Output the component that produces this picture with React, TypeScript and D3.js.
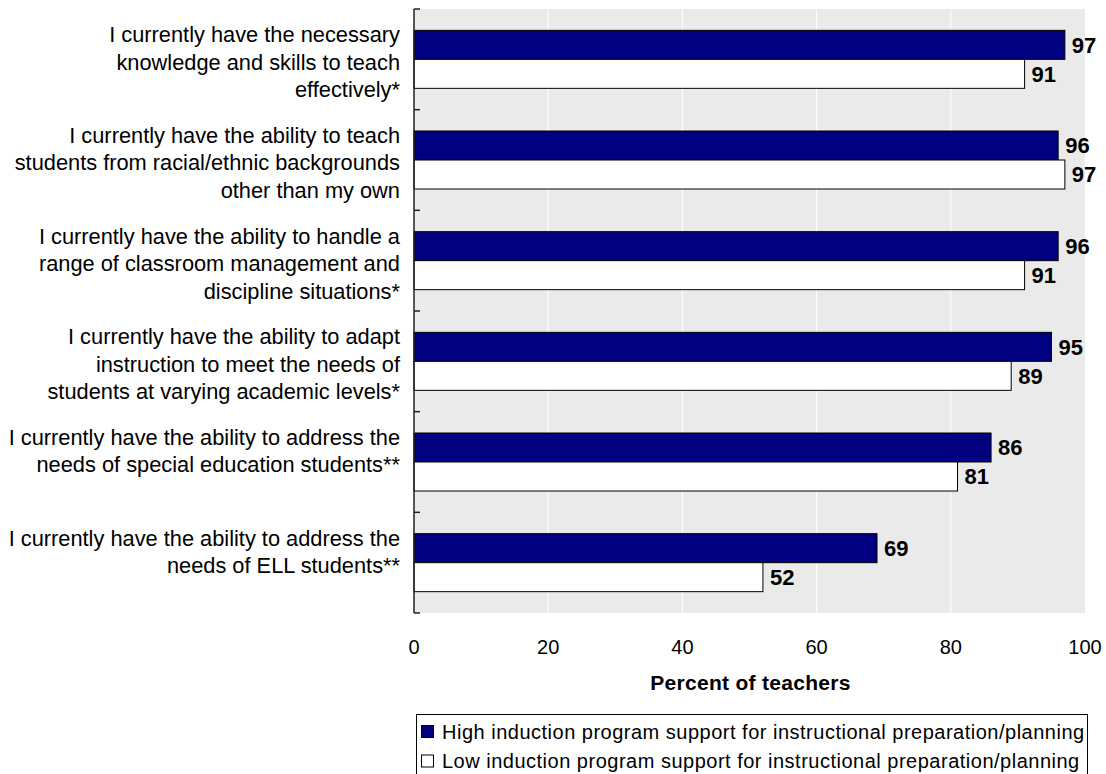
import React from "react";
import * as d3 from "d3";

const categories: string[][] = [
  ["I currently have the necessary", "knowledge and skills to teach", "effectively*"],
  ["I currently have the ability to teach", "students from racial/ethnic backgrounds", "other than my own"],
  ["I currently have the ability to handle a", "range of classroom management and", "discipline situations*"],
  ["I currently have the ability to adapt", "instruction to meet the needs of", "students at varying academic levels*"],
  ["I currently have the ability to address the", "needs of special education students**"],
  ["I currently have the ability to address the", "needs of ELL students**"],
];
const highValues: number[] = [97, 96, 96, 95, 86, 69];
const lowValues: number[] = [91, 97, 91, 89, 81, 52];
const xTicks: number[] = [0, 20, 40, 60, 80, 100];
const seriesNames: string[] = [
  "High induction program support for instructional preparation/planning",
  "Low induction program support for instructional preparation/planning",
];
const xTitle = "Percent of teachers";

const W = 1106;
const H = 774;
const FONT = "'Liberation Sans', Arial, sans-serif";
const NAVY = "#000080";

export default function App() {
  const left = 414;
  const right = 1085;
  const top = 9;
  const bottom = 613;
  const x = d3.scaleLinear().domain([0, 100]).range([left, right]);
  const y = d3
    .scaleBand<number>()
    .domain(categories.map((_, i) => i))
    .range([top, bottom]);
  const barH = 29;
  const boundaries = d3.range(categories.length + 1).map((i) => top + i * y.step());

  return (
    <svg
      width={W}
      height={H}
      style={{ position: "absolute", left: 0, top: 0, display: "block" }}
      fontFamily={FONT}
    >
      <rect x={0} y={0} width={W} height={H} fill="#fff" />
      <rect x={left} y={top} width={right - left} height={bottom - top} fill="#EAEAEA" />
      {xTicks.slice(1, -1).map((t) => (
        <line key={t} x1={x(t)} x2={x(t)} y1={top} y2={bottom} stroke="#fff" strokeWidth={1} />
      ))}
      {categories.map((lines, i) => {
        const c = (y(i) as number) + y.bandwidth() / 2;
        return (
          <g key={i}>
            <rect
              x={x(0)}
              y={c - barH}
              width={x(highValues[i]) - x(0)}
              height={barH}
              fill={NAVY}
              stroke="#000"
              strokeWidth={1}
            />
            <rect
              x={x(0)}
              y={c}
              width={x(lowValues[i]) - x(0)}
              height={barH}
              fill="#fff"
              stroke="#000"
              strokeWidth={1}
            />
            <text
              x={x(highValues[i]) + 7}
              y={c - barH / 2}
              dy="0.36em"
              fontSize={22}
              fontWeight="bold"
              fill="#000"
            >
              {highValues[i]}
            </text>
            <text
              x={x(lowValues[i]) + 7}
              y={c + barH / 2}
              dy="0.36em"
              fontSize={22}
              fontWeight="bold"
              fill="#000"
            >
              {lowValues[i]}
            </text>
            {lines.map((ln, j) => (
              <text
                key={j}
                x={400}
                y={c - 25 + j * 27.5}
                dy="0.36em"
                textAnchor="end"
                fontSize={21.8}
                fill="#000"
              >
                {ln}
              </text>
            ))}
          </g>
        );
      })}
      <line x1={left} x2={left} y1={top} y2={bottom} stroke="#222" strokeWidth={1.5} />
      {boundaries.map((b, i) => (
        <line key={i} x1={left} x2={left + 6} y1={b} y2={b} stroke="#222" strokeWidth={1.5} />
      ))}
      {xTicks.map((t) => (
        <text key={t} x={x(t)} y={654} textAnchor="middle" fontSize={20} fill="#000">
          {t}
        </text>
      ))}
      <text
        x={(left + right) / 2 + 1}
        y={690}
        textAnchor="middle"
        fontSize={21}
        letterSpacing={0.3}
        fontWeight="bold"
        fill="#000"
      >
        {xTitle}
      </text>
      <rect x={416.5} y={714.5} width={671} height={80} fill="#fff" stroke="#000" strokeWidth={1} />
      {seriesNames.map((s, i) => (
        <g key={i}>
          <rect
            x={421.5}
            y={725.5 + i * 29.5}
            width={12}
            height={12}
            fill={i === 0 ? NAVY : "#fff"}
            stroke="#000"
            strokeWidth={1}
          />
          <text x={442} y={738.5 + i * 29.5} fontSize={20} letterSpacing={0.5} fill="#000">
            {s}
          </text>
        </g>
      ))}
    </svg>
  );
}
